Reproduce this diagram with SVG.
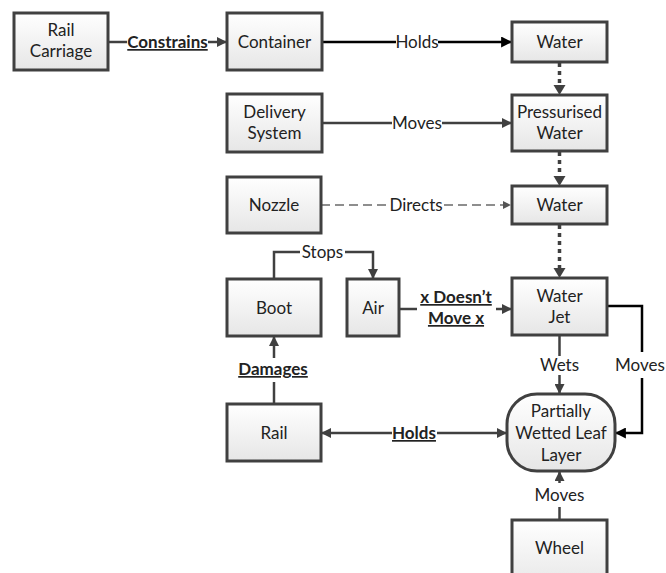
<svg xmlns="http://www.w3.org/2000/svg" width="666" height="573" viewBox="0 0 666 573">
  <defs>
    <linearGradient id="boxFill" x1="0" y1="0" x2="0" y2="1">
      <stop offset="0" stop-color="#ffffff"/>
      <stop offset="1" stop-color="#e6e6e6"/>
    </linearGradient>
    <marker id="arrow" viewBox="0 0 10 10" refX="9" refY="5" markerWidth="10" markerHeight="10" markerUnits="userSpaceOnUse" orient="auto-start-reverse">
      <path d="M0,0 L10,5 L0,10 Z" fill="#404040"/>
    </marker>
    <marker id="arrowBlack" viewBox="0 0 10 10" refX="9" refY="5" markerWidth="11" markerHeight="11" markerUnits="userSpaceOnUse" orient="auto-start-reverse">
      <path d="M0,0 L10,5 L0,10 Z" fill="#000000"/>
    </marker>
    <marker id="arrowSmall" viewBox="0 0 10 10" refX="9" refY="5" markerWidth="8" markerHeight="8" markerUnits="userSpaceOnUse" orient="auto">
      <path d="M0,0 L10,5 L0,10 Z" fill="#555555"/>
    </marker>
  </defs>
  <style>
    .box { fill: url(#boxFill); stroke: #404040; stroke-width: 3; }
    .t { font-family: Lato, "Liberation Sans", sans-serif; font-size: 17px; fill: #222222; text-anchor: middle; }
    .lbl { font-family: Lato, "Liberation Sans", sans-serif; font-size: 17px; fill: #222222; text-anchor: middle; }
    .bold { font-weight: bold; text-decoration: underline; }
    .ln { fill: none; stroke: #404040; stroke-width: 2.5; }
    .lnBlack { fill: none; stroke: #000000; stroke-width: 2.5; }
    .dot { fill: none; stroke: #404040; stroke-width: 3.5; stroke-dasharray: 4 4; }
    .dash { fill: none; stroke: #6a6a6a; stroke-width: 1.5; stroke-dasharray: 9 5; }
  </style>

  <!-- connectors -->
  <g id="connectors">
    <!-- Rail Carriage constrains Container -->
    <path class="ln" d="M108,42 H127"/>
    <path class="ln" d="M208,42 H226" marker-end="url(#arrow)"/>
    <text class="lbl bold" x="167.5" y="48">Constrains</text>

    <!-- Container holds Water -->
    <path class="lnBlack" d="M322,42 H396"/>
    <path class="lnBlack" d="M438,42 H511" marker-end="url(#arrowBlack)"/>
    <text class="lbl" x="417" y="48">Holds</text>

    <!-- Delivery System moves Pressurised Water -->
    <path class="ln" d="M322,123 H392"/>
    <path class="ln" d="M442,123 H511" marker-end="url(#arrow)"/>
    <text class="lbl" x="417" y="129">Moves</text>

    <!-- Nozzle directs Water -->
    <path class="dash" d="M321,205 H388"/>
    <path class="dash" d="M444,205 H510" marker-end="url(#arrowSmall)"/>
    <text class="lbl" x="416" y="211">Directs</text>

    <!-- water state transitions -->
    <path class="dot" d="M559.5,63 V85"/>
    <path d="M553.5,85 L565.5,85 L559.5,95 Z" fill="#404040"/>
    <path class="dot" d="M559.5,152 V176"/>
    <path d="M553.5,176 L565.5,176 L559.5,186 Z" fill="#404040"/>
    <path class="dot" d="M559.5,225 V268"/>
    <path d="M553.5,268 L565.5,268 L559.5,278 Z" fill="#404040"/>

    <!-- Boot stops Air -->
    <path class="ln" d="M274,279 V252 H300"/>
    <path class="ln" d="M345,252 H373 V278" marker-end="url(#arrow)"/>
    <text class="lbl" x="322.5" y="258">Stops</text>

    <!-- Air does not move Water Jet -->
    <path class="ln" d="M399,309 H417"/>
    <path class="ln" d="M496,309 H511" marker-end="url(#arrow)"/>
    <text class="lbl bold" x="456" y="303">x Doesn’t</text>
    <text class="lbl bold" x="456" y="324">Move x</text>

    <!-- Water Jet wets leaf layer -->
    <path class="ln" d="M559.5,336 V356"/>
    <path class="ln" d="M559.5,375 V393" marker-end="url(#arrow)"/>
    <text class="lbl" x="559.5" y="371">Wets</text>

    <!-- Water Jet moves leaf layer -->
    <path class="lnBlack" d="M607,306 H642 V352"/>
    <path class="lnBlack" d="M642,378 V433 H616" marker-end="url(#arrowBlack)"/>
    <text class="lbl" x="640" y="371">Moves</text>

    <!-- Rail holds leaf layer -->
    <path class="ln" d="M322,433 H392" marker-start="url(#arrow)"/>
    <path class="ln" d="M437,433 H506" marker-end="url(#arrow)"/>
    <text class="lbl bold" x="414" y="439">Holds</text>

    <!-- Wheel moves leaf layer -->
    <path class="ln" d="M559.5,520 V507"/>
    <path class="ln" d="M559.5,483 V472" marker-end="url(#arrow)"/>
    <text class="lbl" x="559.5" y="501">Moves</text>

    <!-- Rail damages Boot -->
    <path class="ln" d="M274,404 V382"/>
    <path class="ln" d="M274,358 V337" marker-end="url(#arrow)"/>
    <text class="lbl bold" x="273" y="375">Damages</text>
  </g>

  <!-- nodes -->
  <g id="rail-carriage">
    <rect class="box" x="14" y="13" width="94" height="57"/>
    <text class="t" x="61" y="36">Rail</text>
    <text class="t" x="61" y="57">Carriage</text>
  </g>
  <g id="container">
    <rect class="box" x="227" y="13" width="95" height="57"/>
    <text class="t" x="274.5" y="48">Container</text>
  </g>
  <g id="water-1">
    <rect class="box" x="512" y="22" width="95" height="40"/>
    <text class="t" x="559.5" y="48">Water</text>
  </g>
  <g id="delivery-system">
    <rect class="box" x="227" y="94" width="95" height="58"/>
    <text class="t" x="274.5" y="118">Delivery</text>
    <text class="t" x="274.5" y="139">System</text>
  </g>
  <g id="pressurised-water">
    <rect class="box" x="512" y="95" width="95" height="56"/>
    <text class="t" x="559.5" y="118">Pressurised</text>
    <text class="t" x="559.5" y="139">Water</text>
  </g>
  <g id="nozzle">
    <rect class="box" x="227" y="177" width="94" height="56"/>
    <text class="t" x="274" y="211">Nozzle</text>
  </g>
  <g id="water-2">
    <rect class="box" x="512" y="186" width="95" height="38"/>
    <text class="t" x="559.5" y="211">Water</text>
  </g>
  <g id="boot">
    <rect class="box" x="227" y="279" width="94" height="57"/>
    <text class="t" x="274" y="314">Boot</text>
  </g>
  <g id="air">
    <rect class="box" x="347" y="279" width="52" height="57"/>
    <text class="t" x="373" y="314">Air</text>
  </g>
  <g id="water-jet">
    <rect class="box" x="512" y="278" width="95" height="57"/>
    <text class="t" x="559.5" y="302">Water</text>
    <text class="t" x="559.5" y="323">Jet</text>
  </g>
  <g id="rail">
    <rect class="box" x="227" y="404" width="94" height="57"/>
    <text class="t" x="274" y="439">Rail</text>
  </g>
  <g id="leaf-layer">
    <rect class="box" x="507" y="394" width="108" height="77" rx="30" ry="30"/>
    <text class="t" x="561" y="417">Partially</text>
    <text class="t" x="561" y="439">Wetted Leaf</text>
    <text class="t" x="561" y="461">Layer</text>
  </g>
  <g id="wheel">
    <rect class="box" x="512" y="520" width="95" height="70"/>
    <text class="t" x="559.5" y="554">Wheel</text>
  </g>
</svg>
